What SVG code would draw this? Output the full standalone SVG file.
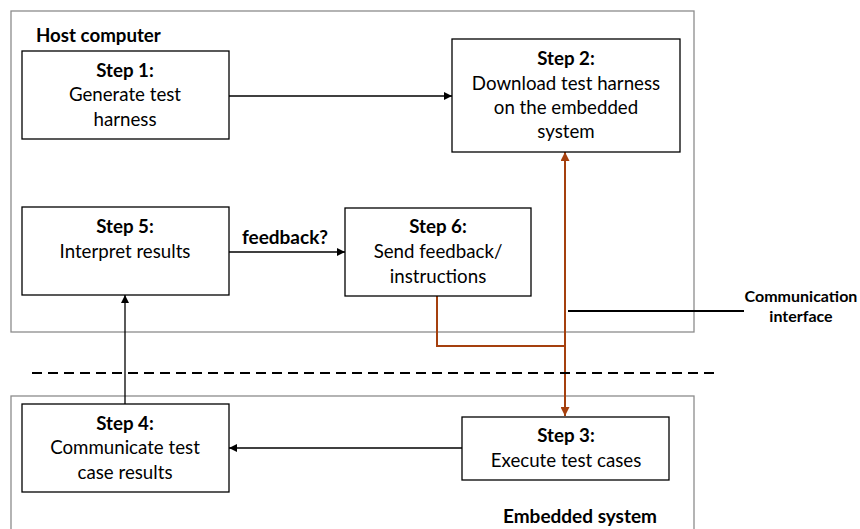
<svg xmlns="http://www.w3.org/2000/svg" width="860" height="529" viewBox="0 0 860 529">
<style>
.container{fill:none;stroke:#8c8c8c;stroke-width:1.3}
.box{fill:#fff;stroke:#000;stroke-width:1.3}
.t{font-family:Lato,"Open Sans",sans-serif;font-size:18.7px;fill:#000;text-anchor:middle}
.b{font-weight:bold}
.lbl{font-family:Lato,"Open Sans",sans-serif;font-weight:bold;fill:#000}
.conn{fill:none;stroke:#000;stroke-width:1.3}
.orange{fill:none;stroke:#a5400e;stroke-width:2}
</style>
<defs>
<marker id="ah" viewBox="0 0 10 10" refX="10" refY="5" markerWidth="8" markerHeight="8" markerUnits="userSpaceOnUse" orient="auto"><path d="M0,0 L10,5 L0,10 z" fill="#000"/></marker>
<marker id="ao" viewBox="0 0 10 10" refX="10" refY="5" markerWidth="9" markerHeight="9" markerUnits="userSpaceOnUse" orient="auto-start-reverse"><path d="M0,0 L10,5 L0,10 z" fill="#a5400e"/></marker>
</defs>
<rect width="860" height="529" fill="#fff"/>
<g id="host">
<rect class="container" x="11" y="11" width="683" height="321"/>
<text class="lbl" x="36" y="42" font-size="18.7">Host computer</text>
</g>
<g id="embedded">
<rect class="container" x="11" y="396" width="683" height="140"/>
<text class="lbl" x="580" y="523" font-size="19" text-anchor="middle">Embedded system</text>
</g>
<g id="connectors">
<line class="conn" x1="229" y1="96" x2="452" y2="96" marker-end="url(#ah)"/>
<line class="conn" x1="229" y1="252" x2="345" y2="252" marker-end="url(#ah)"/>
<line class="conn" x1="125" y1="404" x2="125" y2="295" marker-end="url(#ah)"/>
<line class="conn" x1="462" y1="448" x2="229" y2="448" marker-end="url(#ah)"/>
<line class="orange" x1="565" y1="416" x2="565" y2="152" marker-start="url(#ao)" marker-end="url(#ao)"/>
<polyline class="orange" points="437,296 437,346 565,346"/>
<line x1="32" y1="373" x2="714" y2="373" stroke="#000" stroke-width="2" stroke-dasharray="10,6"/>
<line x1="568" y1="311" x2="744" y2="311" stroke="#000" stroke-width="2"/>
<text class="lbl" x="285" y="244" font-size="19" text-anchor="middle">feedback?</text>
<text class="lbl" x="801" y="302" font-size="16" text-anchor="middle">Communication</text>
<text class="lbl" x="801" y="322" font-size="16" text-anchor="middle">interface</text>
</g>
<g id="step1">
<rect class="box" x="22" y="51" width="207" height="88"/>
<text class="t b" x="125" y="77">Step 1:</text>
<text class="t" x="125" y="101">Generate test</text>
<text class="t" x="125" y="126">harness</text>
</g>
<g id="step2">
<rect class="box" x="452" y="39" width="228" height="113"/>
<text class="t b" x="566" y="65">Step 2:</text>
<text class="t" x="566" y="90">Download test harness</text>
<text class="t" x="566" y="114">on the embedded</text>
<text class="t" x="566" y="138">system</text>
</g>
<g id="step5">
<rect class="box" x="22" y="207" width="207" height="88"/>
<text class="t b" x="125" y="233">Step 5:</text>
<text class="t" x="125" y="258">Interpret results</text>
</g>
<g id="step6">
<rect class="box" x="345" y="208" width="186" height="88"/>
<text class="t b" x="438" y="233">Step 6:</text>
<text class="t" x="438" y="258">Send feedback/</text>
<text class="t" x="438" y="283">instructions</text>
</g>
<g id="step4">
<rect class="box" x="22" y="404" width="207" height="88"/>
<text class="t b" x="125" y="430">Step 4:</text>
<text class="t" x="125" y="454">Communicate test</text>
<text class="t" x="125" y="479">case results</text>
</g>
<g id="step3">
<rect class="box" x="462" y="417" width="207" height="63"/>
<text class="t b" x="566" y="442">Step 3:</text>
<text class="t" x="566" y="467">Execute test cases</text>
</g>
</svg>
